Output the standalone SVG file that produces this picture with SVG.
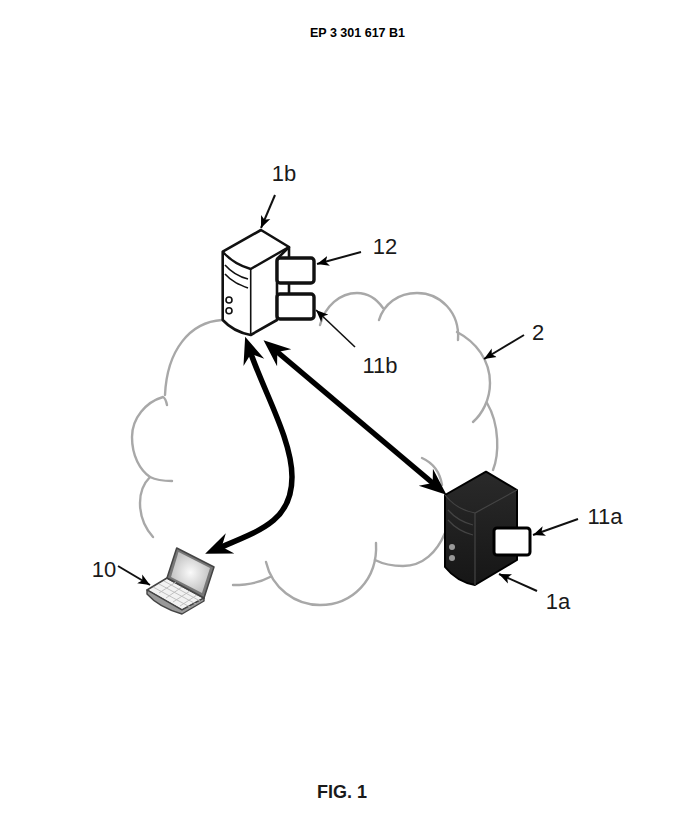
<svg xmlns="http://www.w3.org/2000/svg" width="679" height="820" viewBox="0 0 679 820">
<defs>
<style>
text{font-family:"Liberation Sans",Arial,sans-serif;fill:#1a1a1a;text-anchor:middle}
.lab{font-size:22px}
.cloud{fill:none;stroke:#a8a8a8;stroke-width:2.4;stroke-linecap:round}
.thin{fill:none;stroke:#111;stroke-width:2;marker-end:url(#thinHead)}
.thick{fill:none;stroke:#000;stroke-width:5.5;marker-end:url(#bigHead);marker-start:url(#bigHead)}
.o{stroke:#111;stroke-linejoin:round;fill:#fff}
</style>
<marker id="thinHead" markerUnits="userSpaceOnUse" markerWidth="14" markerHeight="12" refX="12" refY="6" orient="auto"><path d="M0 1 L12 6 L0 11 L3 6Z" fill="#000"/></marker>
<marker id="bigHead" markerUnits="userSpaceOnUse" markerWidth="30" markerHeight="24" refX="12" refY="12" orient="auto-start-reverse"><path d="M0 1 L27 12 L0 23 L9 12Z" fill="#000"/></marker>
<linearGradient id="dark" x1="0" y1="0" x2="0" y2="1"><stop offset="0" stop-color="#2a2a2a"/><stop offset="1" stop-color="#161616"/></linearGradient>
<radialGradient id="scr"><stop offset="0" stop-color="#fafafa"/><stop offset="1" stop-color="#c4c4c4"/></radialGradient>
</defs>
<rect width="679" height="820" fill="#fff"/>
<text x="357.500" y="37" font-size="12.500" font-weight="bold" style="fill:#000">EP 3 301 617 B1</text>
<text x="342" y="798" font-size="18" font-weight="bold">FIG. 1</text>

<g id="cloud-2">
<path class="cloud" d="M222 320C190 322 167 350 165 395"/>
<path class="cloud" d="M167 405C166 400 165 398 163 397C146 402 132 418 132 437C132 456 140 470 150 477C156 480 163 481 172 481"/>
<path class="cloud" d="M150 477C143 484 140 493 140 503C140 517 145 528 153 537"/>
<path class="cloud" d="M233 585C247 585 259 583 270 577"/>
<path class="cloud" d="M266 562C272 588 295 605 320 605C352 605 378 580 376 543"/>
<path class="cloud" d="M375 560C383 564 393 566 403 566C423 566 437 552 445 533"/>
<path class="cloud" d="M422 458C433 463 440 472 442 485"/>
<path class="cloud" d="M493 470C499 455 500 425 487 403"/>
<path class="cloud" d="M473 422C482 414 490 400 490 383C490 360 476 342 457 332"/>
<path class="cloud" d="M458 340C460 312 440 293 417 293C398 293 384 304 379 320"/>
<path class="cloud" d="M383 308C376 298 367 293 357 293C340 293 325 306 320 325"/>
<text class="lab" x="538" y="340">2</text>
<path class="thin" d="M524 335L484 359"/>
</g>

<g id="node-1b">
<path class="o" stroke-width="2.6" d="M261 230L222.700 251.700V320C230 328 240 333 250.700 335L277 320V259L289 247Z"/>
<path fill="none" stroke="#111" stroke-width="2.400" d="M222.700 251.700C230 260 240 266 250.700 269L289 247"/>
<path fill="none" stroke="#111" stroke-width="1.600" d="M250.700 269V335M225 265C232 273 240 277 248 279M225 274C232 282 240 285 248 288"/>
<circle cx="229" cy="300" r="3" fill="#fff" stroke="#111" stroke-width="1.600"/>
<circle cx="229" cy="310.700" r="3" fill="#fff" stroke="#111" stroke-width="1.600"/>
<path stroke="#111" stroke-width="2.600" d="M289 247V258M289 283V294"/>
<text class="lab" x="284" y="181">1b</text>
<path class="thin" d="M275 195L261 228"/>
</g>
<g id="node-12">
<rect class="o" stroke-width="3.400" x="277" y="258" width="37" height="25" rx="3"/>
<text class="lab" x="385" y="254">12</text>
<path class="thin" d="M361 252L317 264"/>
</g>
<g id="node-11b">
<rect class="o" stroke-width="3.400" x="277" y="294" width="37" height="25" rx="3"/>
<text class="lab" x="380" y="373">11b</text>
<path fill="none" stroke="#111" stroke-width="1.600" marker-end="url(#thinHead)" d="M355 347L316 310"/>
</g>

<g id="node-1a">
<path fill="url(#dark)" stroke="#000" stroke-width="2" stroke-linejoin="round" d="M486 471.700L445 495V567C453 577 463 583 475 585L517 560V490Z"/>
<path fill="none" stroke="#444" stroke-width="1.200" d="M445 495C453 505 463 511 475 513L517 490M475 513V585M448 510C456 519 465 523 473 525M448 520C456 529 465 533 473 535"/>
<circle cx="452" cy="547" r="3" fill="#999"/>
<circle cx="452" cy="558" r="3" fill="#999"/>
<text class="lab" x="558" y="609">1a</text>
<path class="thin" d="M537 591L499 574"/>
</g>
<g id="node-11a">
<rect x="494" y="528" width="36" height="27" rx="3" fill="#fff" stroke="#000" stroke-width="3"/>
<text class="lab" x="605" y="524">11a</text>
<path class="thin" d="M578 519L533 535"/>
</g>

<g id="node-10">
<path fill="#f2f2f2" stroke="#444" stroke-width="1.600" stroke-linejoin="round" d="M147 590L167 578L204 598L182 610Z"/>
<path fill="#999" stroke="#444" stroke-width="1.400" stroke-linejoin="round" d="M147 590V594C155 603 168 610 182 614L204 601V598L182 610Z"/>
<path fill="#777" stroke="#444" stroke-width="1.500" stroke-linejoin="round" d="M176.700 548L214 567L204 598L167 578Z"/>
<path fill="url(#scr)" d="M178.500 552L210 568L202 593L171 577Z"/>
<path fill="none" stroke="#bbb" stroke-width="0.900" d="M153 587L190 607M159 584L196 604M164 581L200 601M159 593L176 582M166 598L182 587M173 602L190 591M180 606L197 595"/>
<text class="lab" x="104" y="577">10</text>
<path class="thin" d="M118 566L150 585"/>
</g>

<g id="connectors">
<path class="thick" d="M250 351C264 392 292 440 292 477C292 520 262 530 219 548"/>
<path class="thick" d="M275 350L435 485"/>
</g>
</svg>
